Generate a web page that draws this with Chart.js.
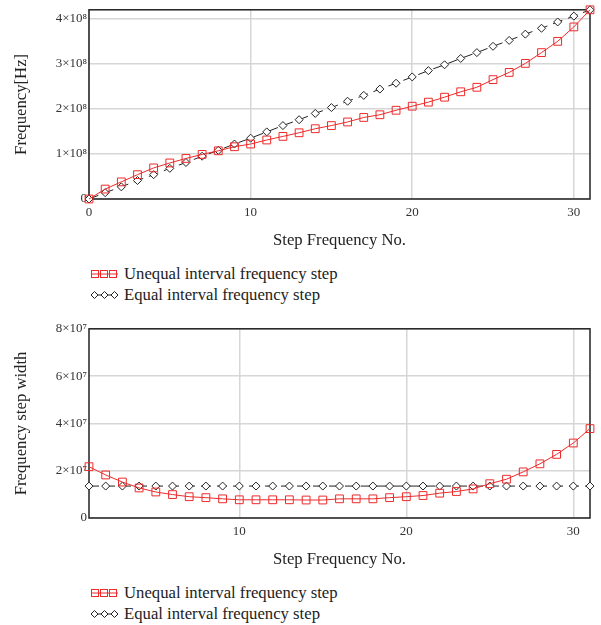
<!DOCTYPE html>
<html lang="en">
  <head>
    <meta charset="UTF-8" />
    <meta name="viewport" content="width=device-width, initial-scale=1.0" />
    <script src="https://cdn.jsdelivr.net/npm/chart.js"></script>
    <title>Step frequency</title>
    <style>
      body {
        margin: 0;
        background: #fff;
      }
      .main {
        position: relative;
        width: 601px;
        height: 625px;
        font-family: "Liberation Serif", "Times New Roman", serif;
        color: #222;
      }
      .panel {
        position: absolute;
        left: 0;
        width: 601px;
        height: 319px;
      }
      .panel canvas {
        position: absolute;
        left: 0;
        top: 0;
      }
      .legend {
        position: absolute;
        left: 91px;
        top: 263px;
        font-size: 16.7px;
      }
      .legend-row {
        display: flex;
        align-items: center;
        height: 21px;
      }
      .legend-row svg {
        margin-right: 6px;
      }
    </style>
  </head>
  <body>
    <main class="main">
      <section class="panel" style="top: 0">
        <canvas id="chart-freq" width="601" height="255"></canvas>
        <div class="legend">
          <div class="legend-row">
            <svg width="27" height="12">
              <line x1="0" y1="6" x2="27" y2="6" stroke="#ee2a2a" stroke-width="1" />
              <rect x="0.5" y="2.5" width="7" height="7" fill="none" stroke="#ee2a2a" />
              <rect x="9.5" y="2.5" width="7" height="7" fill="none" stroke="#ee2a2a" />
              <rect x="18.5" y="2.5" width="7" height="7" fill="none" stroke="#ee2a2a" />
            </svg>
            <span>Unequal interval frequency step</span>
          </div>
          <div class="legend-row">
            <svg width="27" height="12">
              <line x1="0" y1="6" x2="27" y2="6" stroke="#222" stroke-width="1" />
              <polygon points="3.5,2.5 7,6 3.5,9.5 0,6" fill="#fff" stroke="#222" />
              <polygon points="13.5,2.5 17,6 13.5,9.5 10,6" fill="#fff" stroke="#222" />
              <polygon points="23.5,2.5 27,6 23.5,9.5 20,6" fill="#fff" stroke="#222" />
            </svg>
            <span>Equal interval frequency step</span>
          </div>
        </div>
      </section>
      <section class="panel" style="top: 319px">
        <canvas id="chart-width" width="601" height="255"></canvas>
        <div class="legend">
          <div class="legend-row">
            <svg width="27" height="12">
              <line x1="0" y1="6" x2="27" y2="6" stroke="#ee2a2a" stroke-width="1" />
              <rect x="0.5" y="2.5" width="7" height="7" fill="none" stroke="#ee2a2a" />
              <rect x="9.5" y="2.5" width="7" height="7" fill="none" stroke="#ee2a2a" />
              <rect x="18.5" y="2.5" width="7" height="7" fill="none" stroke="#ee2a2a" />
            </svg>
            <span>Unequal interval frequency step</span>
          </div>
          <div class="legend-row">
            <svg width="27" height="12">
              <line x1="0" y1="6" x2="27" y2="6" stroke="#222" stroke-width="1" />
              <polygon points="3.5,2.5 7,6 3.5,9.5 0,6" fill="#fff" stroke="#222" />
              <polygon points="13.5,2.5 17,6 13.5,9.5 10,6" fill="#fff" stroke="#222" />
              <polygon points="23.5,2.5 27,6 23.5,9.5 20,6" fill="#fff" stroke="#222" />
            </svg>
            <span>Equal interval frequency step</span>
          </div>
        </div>
      </section>
    </main>
    <script>
      // data area
      const freqSteps = [0, 1, 2, 3, 4, 5, 6, 7, 8, 9, 10, 11, 12, 13, 14, 15,
        16, 17, 18, 19, 20, 21, 22, 23, 24, 25, 26, 27, 28, 29, 30, 31];
      const unequalFreq = [0, 0.22e8, 0.38e8, 0.54e8, 0.69e8, 0.80e8, 0.90e8, 0.99e8,
        1.07e8, 1.16e8, 1.22e8, 1.31e8, 1.39e8, 1.47e8, 1.56e8, 1.63e8,
        1.71e8, 1.81e8, 1.87e8, 1.97e8, 2.06e8, 2.15e8, 2.26e8, 2.38e8,
        2.48e8, 2.65e8, 2.81e8, 3.01e8, 3.25e8, 3.50e8, 3.82e8, 4.20e8];
      const equalFreq = [0, 0.14e8, 0.27e8, 0.41e8, 0.54e8, 0.68e8, 0.81e8, 0.95e8,
        1.08e8, 1.22e8, 1.35e8, 1.49e8, 1.63e8, 1.76e8, 1.90e8, 2.03e8,
        2.17e8, 2.30e8, 2.44e8, 2.57e8, 2.71e8, 2.85e8, 2.98e8, 3.12e8,
        3.25e8, 3.39e8, 3.52e8, 3.66e8, 3.79e8, 3.93e8, 4.06e8, 4.20e8];
      const freqXTicks = [0, 10, 20, 30];
      const freqYTicks = [0, 1e8, 2e8, 3e8, 4e8];
      const freqYLabels = ['0', '1×10⁸', '2×10⁸', '3×10⁸', '4×10⁸'];

      const widthSteps = [1, 2, 3, 4, 5, 6, 7, 8, 9, 10, 11, 12, 13, 14, 15, 16,
        17, 18, 19, 20, 21, 22, 23, 24, 25, 26, 27, 28, 29, 30, 31];
      const unequalWidth = [2.17e7, 1.82e7, 1.52e7, 1.27e7, 1.10e7, 0.99e7, 0.90e7, 0.86e7,
        0.81e7, 0.77e7, 0.77e7, 0.77e7, 0.77e7, 0.76e7, 0.76e7, 0.81e7,
        0.81e7, 0.81e7, 0.86e7, 0.90e7, 0.95e7, 1.05e7, 1.12e7, 1.23e7,
        1.45e7, 1.64e7, 1.95e7, 2.29e7, 2.69e7, 3.17e7, 3.78e7];
      const equalWidth = [1.35e7, 1.35e7, 1.35e7, 1.35e7, 1.35e7, 1.35e7, 1.35e7, 1.35e7,
        1.35e7, 1.35e7, 1.35e7, 1.35e7, 1.35e7, 1.35e7, 1.35e7, 1.35e7,
        1.35e7, 1.35e7, 1.35e7, 1.35e7, 1.35e7, 1.35e7, 1.35e7, 1.35e7,
        1.35e7, 1.35e7, 1.35e7, 1.35e7, 1.35e7, 1.35e7, 1.35e7];
      const widthXTicks = [10, 20, 30];
      const widthYTicks = [0, 2e7, 4e7, 6e7, 8e7];
      const widthYLabels = ['0', '2×10⁷', '4×10⁷', '6×10⁷', '8×10⁷'];

      Chart.defaults.font.family = '"Liberation Serif", "Times New Roman", serif';

      // box around the plot area, under the markers
      const frame = {
        id: 'frame',
        beforeDatasetsDraw(chart) {
          const { ctx, chartArea: a } = chart;
          ctx.save();
          ctx.strokeStyle = '#222';
          ctx.lineWidth = 1.5;
          ctx.strokeRect(a.left, a.top, a.right - a.left, a.bottom - a.top);
          ctx.restore();
        },
      };

      function render_chart(id, cfg) {
        const pts = (vals) => cfg.steps.map((s, i) => ({ x: s, y: vals[i] }));
        return new Chart(document.getElementById(id), {
          type: 'line',
          data: {
            datasets: [
              {
                data: pts(cfg.unequal),
                borderColor: '#ee2a2a',
                borderWidth: 1,
                pointStyle: 'rect',
                pointRadius: 5.5,
                pointBorderWidth: 1,
                pointBackgroundColor: 'rgba(255,255,255,0)',
                pointBorderColor: '#ee2a2a',
                clip: false,
              },
              {
                data: pts(cfg.equal),
                borderColor: '#222',
                borderWidth: 1,
                borderDash: [10, 6],
                pointStyle: 'rectRot',
                pointRadius: 4,
                pointBorderWidth: 1,
                pointBackgroundColor: '#fff',
                pointBorderColor: '#222',
                clip: false,
              },
            ],
          },
          options: {
            responsive: false,
            animation: false,
            layout: {
              padding: { top: 6, right: 11, left: 0, bottom: 0 },
            },
            plugins: {
              legend: { display: false },
              tooltip: { enabled: false },
            },
            scales: {
              x: {
                type: 'linear',
                min: cfg.xMin,
                max: 31,
                afterBuildTicks: (s) => { s.ticks = cfg.xTicks.map((v) => ({ value: v })); },
                afterFit: (s) => { s.height = 56; },
                grid: { color: '#d6d6d6', lineWidth: 1.5, drawTicks: false },
                border: { display: false },
                ticks: {
                  padding: 6,
                  color: '#333',
                  font: { size: 13 },
                  maxRotation: 0,
                  autoSkip: false,
                },
                title: {
                  display: true,
                  text: 'Step Frequency No.',
                  color: '#222',
                  font: { size: 16.7 },
                  padding: { top: 0, bottom: 4 },
                },
              },
              y: {
                min: 0,
                max: cfg.yMax,
                afterBuildTicks: (s) => { s.ticks = cfg.yTicks.map((v) => ({ value: v })); },
                afterFit: (s) => { s.width = 89; },
                grid: { color: '#d6d6d6', lineWidth: 1.5, drawTicks: false },
                border: { display: false },
                ticks: {
                  padding: 2,
                  color: '#333',
                  font: { size: 13 },
                  callback: (v) => cfg.yLabels[cfg.yTicks.indexOf(v)],
                },
                title: {
                  display: true,
                  text: cfg.yTitle,
                  color: '#222',
                  font: { size: 16.7 },
                  padding: { top: 12, bottom: 0 },
                },
              },
            },
          },
          plugins: [frame],
        });
      }

      render_chart('chart-freq', {
        steps: freqSteps,
        unequal: unequalFreq,
        equal: equalFreq,
        xMin: 0,
        xTicks: freqXTicks,
        yMax: 4.2e8,
        yTicks: freqYTicks,
        yLabels: freqYLabels,
        yTitle: 'Frequency[Hz]',
      });

      render_chart('chart-width', {
        steps: widthSteps,
        unequal: unequalWidth,
        equal: equalWidth,
        xMin: 1,
        xTicks: widthXTicks,
        yMax: 8e7,
        yTicks: widthYTicks,
        yLabels: widthYLabels,
        yTitle: 'Frequency step width',
      });
    </script>
  </body>
</html>
